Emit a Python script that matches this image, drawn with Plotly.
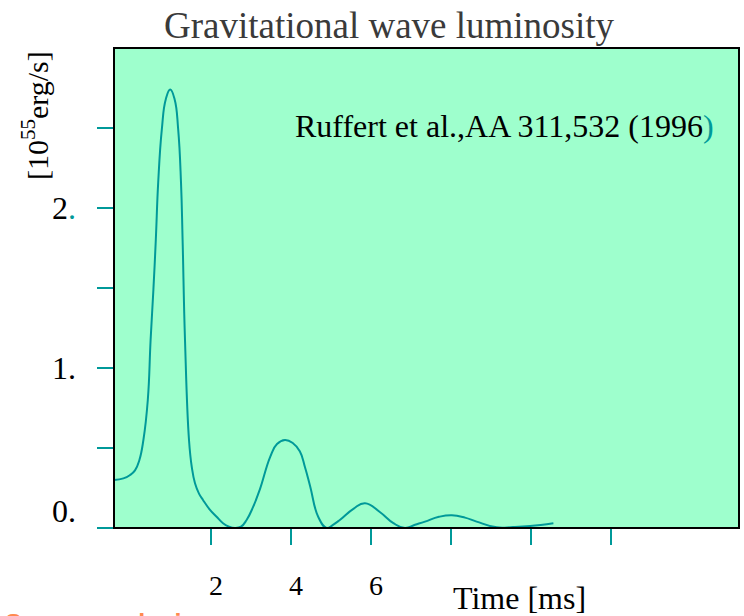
import plotly.graph_objects as go

# Data
time_ms = [-0.42, -0.19, -0.03, 0.10, 0.21, 0.31, 0.42, 0.49, 0.56, 0.62, 0.68, 0.77, 0.87,
           0.98, 1.09, 1.18, 1.25, 1.29, 1.35, 1.45, 1.52, 1.60, 1.70, 1.80, 1.97, 2.14,
           2.30, 2.45, 2.60, 2.75, 2.89, 3.05, 3.22, 3.48, 3.65, 3.85, 4.05, 4.22, 4.35,
           4.48, 4.68, 4.89, 5.05, 5.22, 5.56, 5.85, 6.22, 6.56, 6.85, 7.10, 7.35, 7.70,
           8.02, 8.35, 8.64, 9.14, 9.55, 9.98, 10.56]
lum = [0.30, 0.31, 0.33, 0.36, 0.425, 0.55, 0.80, 1.175, 1.49, 1.80, 2.16, 2.49, 2.68,
       2.74, 2.68, 2.49, 2.16, 1.80, 1.175, 0.55, 0.38, 0.28, 0.215, 0.175, 0.115, 0.07,
       0.03, 0.008, 0.0, 0.008, 0.05, 0.13, 0.24, 0.445, 0.525, 0.55, 0.53, 0.48, 0.38,
       0.26, 0.07, 0.0, 0.02, 0.05, 0.12, 0.155, 0.10, 0.03, 0.0, 0.02, 0.04, 0.07,
       0.08, 0.065, 0.04, 0.004, 0.006, 0.0125, 0.03]

x_tick_vals = [2, 4, 6, 8, 10, 12]
x_tick_text = ["2", "4", "6", "", "", ""]
y_tick_vals = [0, 0.5, 1, 1.5, 2, 2.5]
y_label_vals = [0, 1, 2]
y_label_text = ["0.", "1.", "2<span style='color:#009999'>.</span>"]

title_text = "Gravitational wave luminosity"
note_text = "Ruffert et al.,AA 311,532 (1996<span style='color:#009999'>)</span>"
x_title = "Time [ms]"
y_title = "[10<sup>55</sup>erg/s]"
footer_text = "Some conclusions"

TEAL = "#009999"
SERIF = "Liberation Serif, Times New Roman, serif"

fig = go.Figure()
fig.add_trace(go.Scatter(
    x=time_ms, y=lum, mode="lines",
    line=dict(color=TEAL, width=2, shape="spline", smoothing=1.3),
    hoverinfo="skip", showlegend=False,
))

fig.update_layout(
    width=744, height=616,
    margin=dict(l=114, r=5, t=48, b=88),
    paper_bgcolor="white",
    plot_bgcolor="#9effcd",
    showlegend=False,
    xaxis=dict(
        range=[-0.425, 15.2], showgrid=False, zeroline=False, showline=False,
        tickmode="array", tickvals=x_tick_vals, ticktext=x_tick_text,
        ticks="outside", ticklen=16, tickwidth=2, tickcolor=TEAL,
        tickfont=dict(family=SERIF, size=28, color="black"),
        ticklabelstandoff=16, ticklabelshift=5,
    ),
    yaxis=dict(
        range=[0, 3], showgrid=False, zeroline=False, showline=False,
        tickmode="array", tickvals=y_tick_vals, showticklabels=False,
        ticks="outside", ticklen=16, tickwidth=2, tickcolor=TEAL,
    ),
)

# frame
fig.add_shape(type="rect", xref="paper", yref="paper", x0=0, x1=1, y0=0, y1=1,
              line=dict(color="black", width=2), layer="above")

# y tick labels
for v, t in zip(y_label_vals, y_label_text):
    fig.add_annotation(x=0, xref="paper", y=v, yref="y", text=t, showarrow=False,
                       xanchor="right", yanchor="middle", xshift=-36,
                       yshift=17 if v == 0 else 0,
                       font=dict(family=SERIF, size=32, color="black"))

# title
fig.add_annotation(x=(389.5 - 114) / 625, xref="paper", y=(528 - 26) / 480, yref="paper",
                   text=title_text, showarrow=False, xanchor="center", yanchor="middle",
                   font=dict(family=SERIF, size=37, color="#3a3a3a"))
# note
fig.add_annotation(x=(504.5 - 114) / 625, xref="paper", y=(528 - 126) / 480, yref="paper",
                   text=note_text, showarrow=False, xanchor="center", yanchor="middle",
                   font=dict(family=SERIF, size=32, color="black"))
# x title
fig.add_annotation(x=(519 - 114) / 625, xref="paper", y=(528 - 598) / 480, yref="paper",
                   text=x_title, showarrow=False, xanchor="center", yanchor="middle",
                   font=dict(family=SERIF, size=32, color="black"))
# y title
fig.add_annotation(x=(35 - 114) / 625, xref="paper", y=(528 - 115) / 480, yref="paper",
                   text=y_title, showarrow=False, textangle=-90,
                   xanchor="center", yanchor="middle",
                   font=dict(family=SERIF, size=30, color="black"))
# footer (cut off at the bottom edge, as in the reference)
fig.add_annotation(x=(3 - 114) / 625, xref="paper", y=(528 - 607) / 480, yref="paper",
                   text="<b>" + footer_text + "</b>", showarrow=False,
                   xanchor="left", yanchor="top",
                   font=dict(family="Liberation Sans, Arial, sans-serif", size=25, color="#ff8a50"))

fig.write_html("out.html")
